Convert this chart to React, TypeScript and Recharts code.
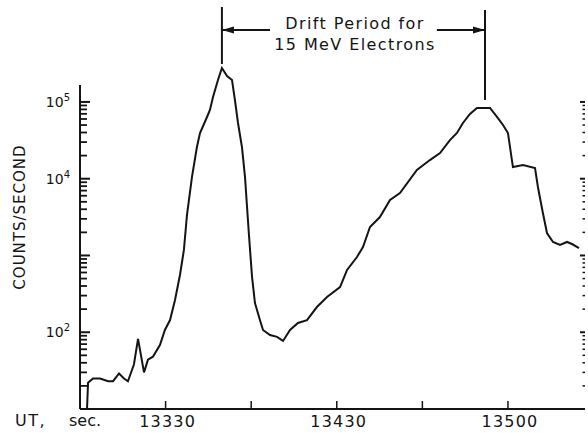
import { Line, LineChart, ReferenceLine, XAxis, YAxis } from "recharts"

// UT seconds and counts/second
const seconds = [
  13284.1, 13284.7, 13287.6, 13291.7, 13296.4, 13299.3, 13302.8, 13305.7, 13308.0, 13311.5,
  13313.9, 13317.4, 13319.7, 13322.6, 13326.7, 13329.6, 13332.6, 13335.5, 13338.4, 13340.7,
  13342.5, 13345.4, 13348.3, 13350.1, 13354.2, 13355.9, 13357.7, 13360.6, 13362.9, 13365.9,
  13368.8, 13370.5, 13372.3, 13374.6, 13376.4, 13377.5, 13378.7, 13380.5, 13382.2, 13385.1,
  13386.9, 13391.0, 13395.1, 13398.6, 13402.7, 13407.3, 13412.6, 13418.4, 13424.3, 13431.9,
  13436.0, 13441.8, 13445.3, 13449.4, 13455.2, 13461.1, 13466.9, 13476.8, 13484.4, 13490.3,
  13496.1, 13500.2, 13503.7, 13507.8, 13511.9, 13519.5, 13523.6, 13527.1, 13530.0, 13532.9,
  13538.8, 13545.8, 13547.5, 13550.4, 13552.8, 13556.3, 13560.4, 13564.5, 13567.4, 13571.5,
]
const counts = [
  10, 22, 25, 25, 23, 23, 29, 25, 23, 38,
  82, 30, 44, 48, 68, 107, 144, 263, 557, 1180,
  3370, 10500, 25900, 39400, 63700, 78600, 116000, 193000, 277000, 218000,
  193000, 106000, 53200, 25900, 10500, 4550, 1850, 525, 240, 144,
  107, 92, 87, 77, 107, 132, 144, 213, 288, 388,
  647, 955, 1290, 2350, 3170, 5280, 6520, 13000, 17500, 21600,
  31900, 39400, 53200, 69700, 83400, 83400, 63700, 50100, 39400, 14200,
  15100, 13800, 7800, 3570, 1960, 1500, 1370, 1500, 1410, 1250,
]

const xTicks = [13330, 13380, 13430, 13480, 13530]
const xTickLabels = ["13330", "", "13430", "", "13500"]
const xDomain = [13280, 13575]

const decades = [10, 100, 1000, 10000, 100000]
const minorSteps = [2, 3, 4, 5, 6, 7, 8, 9]
const labeledTicks = [100, 10000, 100000]
const yDomain = [10, 1778000]

// drift period markers (first peak, second peak)
const peakTimes = [13362.9, 13516.6]
const markerTops = [1726000, 1578000]
const markerBottoms = [311900, 106200]
const arrowLevel = 865000
const arrowStarts = [13391, 13488.5]

const data = seconds.map((t, i) => ({ t, c: counts[i] }))
const minors = decades.slice(0, 4).flatMap((d) => minorSteps.map((m) => m * d))
const leftTicks = [...decades, ...minors].sort((a, b) => a - b)
const rightTicks = [...decades.slice(1), ...minors].sort((a, b) => a - b)

const INK = "#141414"
const FONT = "'DejaVu Sans', sans-serif"

const isMajor = (v: number) => decades.includes(v)

function LeftTick({ y, payload }: any) {
  const v = payload.value
  const major = isMajor(v)
  return (
    <g>
      <line x1={80} x2={major ? 90 : 87} y1={y} y2={y} stroke={INK} strokeWidth={major ? 2 : 1.8} />
      {labeledTicks.includes(v) && (
        <text x={70} y={y + 5} textAnchor="end" fontSize={14} fill={INK} fontFamily={FONT}>
          10
          <tspan dy={-6} fontSize={10}>
            {Math.round(Math.log10(v))}
          </tspan>
        </text>
      )}
    </g>
  )
}

function RightTick({ x, y, payload }: any) {
  const major = isMajor(payload.value)
  return <line x1={x - (major ? 5 : 2.5)} x2={x} y1={y} y2={y} stroke={INK} strokeWidth={major ? 2 : 1.5} />
}

function BottomTick({ x, y, payload }: any) {
  const label = xTickLabels[xTicks.indexOf(payload.value)]
  return (
    <g>
      <line x1={x} x2={x} y1={y} y2={y - 8} stroke={INK} strokeWidth={1.5} />
      {label && (
        <text x={x + 2} y={y + 18} textAnchor="middle" fontSize={16} letterSpacing={1.2} fill={INK} fontFamily={FONT}>
          {label}
        </text>
      )}
    </g>
  )
}

function Arrow(props: any) {
  const { x1, y1, x2, y2 } = props
  const dir = Math.sign(x2 - x1)
  return (
    <g>
      <line x1={x1} y1={y1} x2={x2} y2={y2} stroke={INK} strokeWidth={2} />
      <path d={`M${x2},${y2} L${x2 - dir * 12},${y2 - 3.5} L${x2 - dir * 12},${y2 + 3.5} Z`} fill={INK} />
    </g>
  )
}

export default function App() {
  return (
    <div style={{ position: "absolute", left: 0, top: 0, width: 588, height: 433, background: "#fff", fontFamily: FONT, color: INK }}>
      <LineChart width={588} height={433} data={data} margin={{ top: 6, right: 0, bottom: 0, left: 0 }}>
        <XAxis
          dataKey="t"
          type="number"
          domain={xDomain}
          allowDataOverflow
          ticks={xTicks}
          interval={0}
          height={24}
          tickSize={0}
          tickMargin={0}
          tickLine={false}
          axisLine={{ stroke: INK, strokeWidth: 2 }}
          tick={(p: any) => <BottomTick {...p} />}
        />
        <YAxis
          yAxisId="l"
          scale="log"
          domain={yDomain}
          allowDataOverflow
          ticks={leftTicks}
          interval={0}
          width={80}
          tickSize={0}
          tickMargin={0}
          tickLine={false}
          axisLine={false}
          tick={(p: any) => <LeftTick {...p} />}
        />
        <YAxis
          yAxisId="r"
          orientation="right"
          scale="log"
          domain={yDomain}
          allowDataOverflow
          ticks={rightTicks}
          interval={0}
          width={3}
          tickSize={0}
          tickMargin={0}
          tickLine={false}
          axisLine={false}
          tick={(p: any) => <RightTick {...p} />}
        />
        <ReferenceLine
          yAxisId="l"
          segment={[{ x: xDomain[0], y: yDomain[0] }, { x: xDomain[0], y: 166000 }]}
          stroke={INK}
          strokeWidth={2}
        />
        {peakTimes.map((t, i) => (
          <ReferenceLine
            key={`m${i}`}
            yAxisId="l"
            segment={[{ x: t, y: markerBottoms[i] }, { x: t, y: markerTops[i] }]}
            stroke={INK}
            strokeWidth={2}
          />
        ))}
        {peakTimes.map((t, i) => (
          <ReferenceLine
            key={`a${i}`}
            yAxisId="l"
            segment={[{ x: arrowStarts[i], y: arrowLevel }, { x: t, y: arrowLevel }]}
            shape={(p: any) => <Arrow {...p} />}
          />
        ))}
        <Line
          yAxisId="l"
          type="linear"
          dataKey="c"
          stroke={INK}
          strokeWidth={2}
          dot={false}
          isAnimationActive={false}
        />
      </LineChart>
      <div style={{ position: "absolute", left: 230, top: 13, width: 250, textAlign: "center", fontSize: 16, letterSpacing: 1.4, lineHeight: "21px", whiteSpace: "nowrap" }}>
        Drift Period for
        <br />
        15 MeV Electrons
      </div>
      <div style={{ position: "absolute", left: 20, top: 217, transform: "translate(-50%, -50%) rotate(-90deg)", fontSize: 15, letterSpacing: 1, whiteSpace: "nowrap" }}>
        COUNTS/SECOND
      </div>
      <div style={{ position: "absolute", left: 15, top: 411, fontSize: 16, whiteSpace: "nowrap", letterSpacing: 1.5 }}>UT,</div>
      <div style={{ position: "absolute", left: 69, top: 411, fontSize: 16, whiteSpace: "nowrap" }}>sec.</div>
    </div>
  )
}
